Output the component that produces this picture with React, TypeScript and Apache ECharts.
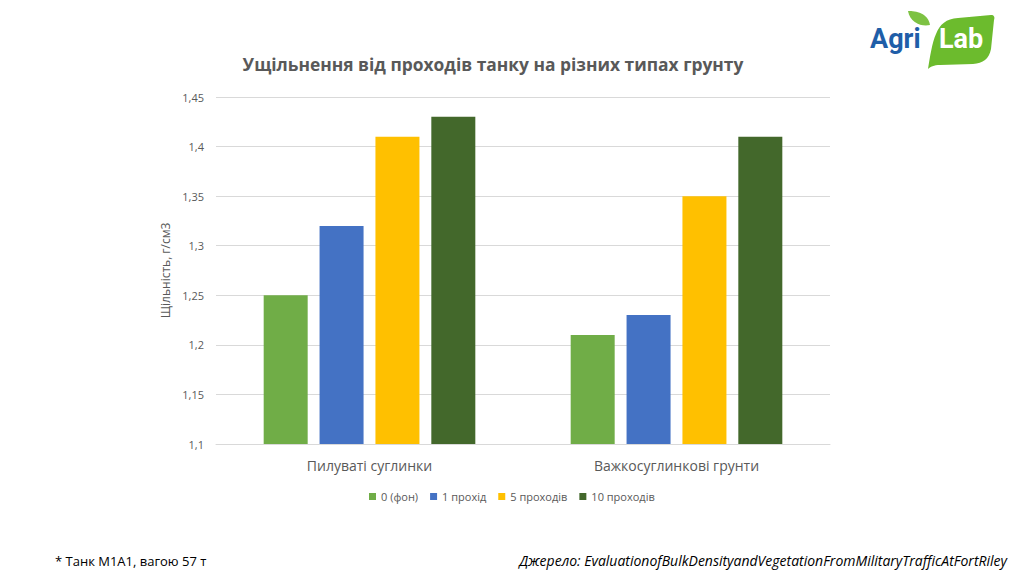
import React, { useEffect, useRef } from "react";
import * as echarts from "echarts";

const categories = ["Пилуваті суглинки", "Важкосуглинкові грунти"];
const seriesNames = ["0 (фон)", "1 прохід", "5 проходів", "10 проходів"];
const pass0 = [1.25, 1.21];
const pass1 = [1.32, 1.23];
const pass5 = [1.41, 1.35];
const pass10 = [1.43, 1.41];
const colors = ["#70AD47", "#4472C4", "#FFC000", "#43682B"];

const leafPath =
  "M2 54 C4 42 6 28 10 19 C14 9 20 4 32 3 L65 0 C68 0 69 2 68 5 L65 34 C63 44 57 48 47 49 L14 50 C8 50 4 52 2 54 Z";
const smallLeafPath = "M0 0 C8 0 20 2 22 14 C14 16 2 12 0 0 Z";

let registered = false;

export default function App() {
  const ref = useRef<HTMLDivElement>(null);
  useEffect(() => {
    if (!ref.current) return;
    if (!registered) {
      echarts.graphic.registerShape("leafBig", echarts.graphic.extendPath(leafPath, {}) as any);
      echarts.graphic.registerShape("leafSmall", echarts.graphic.extendPath(smallLeafPath, {}) as any);
      registered = true;
    }
    const chart = echarts.init(ref.current, null, { renderer: "svg" });
    const data = [pass0, pass1, pass5, pass10];
    chart.setOption({
      animation: false,
      backgroundColor: "#ffffff",
      title: {
        text: "Ущільнення від проходів танку на різних типах грунту",
        left: 488,
        top: 50,
        textAlign: "center",
        textStyle: {
          fontFamily: "Open Sans",
          fontWeight: "bold",
          fontSize: 17.4,
          color: "#595959",
        },
      },
      grid: { left: 216, right: 194, top: 97, bottom: 132 },
      legend: {
        data: seriesNames,
        bottom: 69,
        left: 364,
        itemWidth: 7,
        itemHeight: 7,
        itemGap: 12,
        icon: "rect",
        textStyle: { fontFamily: "Open Sans", fontSize: 11, color: "#595959" },
      },
      xAxis: {
        type: "category",
        data: categories,
        axisLine: { lineStyle: { color: "#d9d9d9" } },
        axisTick: { show: false },
        axisLabel: {
          fontFamily: "Open Sans",
          fontSize: 14,
          color: "#595959",
          margin: 14,
        },
      },
      yAxis: {
        type: "value",
        min: 1.1,
        max: 1.45,
        interval: 0.05,
        name: "Щільність, г/см3",
        nameLocation: "middle",
        nameGap: 34,
        nameTextStyle: { fontFamily: "Open Sans", fontSize: 12, color: "#595959" },
        axisLine: { show: false },
        axisTick: { show: false },
        splitLine: { lineStyle: { color: "#d9d9d9" } },
        axisLabel: {
          fontFamily: "Open Sans",
          fontSize: 11,
          color: "#595959",
          margin: 12,
          formatter: (v: number) => String(Math.round(v * 100) / 100).replace(".", ","),
        },
      },
      series: seriesNames.map((n, i) => ({
        name: n,
        type: "bar",
        data: data[i],
        barWidth: 44,
        barGap: "27%",
        barCategoryGap: "31%",
        itemStyle: { color: colors[i] },
      })),
      graphic: [
        {
          type: "text",
          left: 55,
          top: 554,
          style: {
            text: "* Танк М1А1, вагою 57 т",
            font: "13px 'Open Sans'",
            fill: "#000000",
          },
        },
        {
          type: "text",
          right: 17,
          top: 553,
          style: {
            text: "Джерело: EvaluationofBulkDensityandVegetationFromMilitaryTrafficAtFortRiley",
            font: "italic 14px 'Open Sans'",
            fill: "#000000",
          },
        },
        {
          type: "group",
          left: 870,
          top: 11,
          children: [
            {
              type: "leafSmall",
              x: 40,
              y: 1,
              style: { fill: "#7DC243" },
            },
            {
              type: "leafBig",
              x: 58,
              y: 5,
              style: { fill: "#6CBB2D" },
            },
            {
              type: "text",
              x: 2,
              y: 15,
              style: {
                text: "Agri",
                font: "bold 27px 'Roboto'",
                fill: "#1F5EA8",
              },
            },
            {
              type: "text",
              x: 71,
              y: 15,
              style: {
                text: "Lab",
                font: "bold 27px 'Roboto'",
                fill: "#ffffff",
              },
            },
          ],
        },
      ],
    });
    return () => chart.dispose();
  }, []);
  return (
    <div
      ref={ref}
      style={{ position: "absolute", left: 0, top: 0, width: 1024, height: 576 }}
    />
  );
}
